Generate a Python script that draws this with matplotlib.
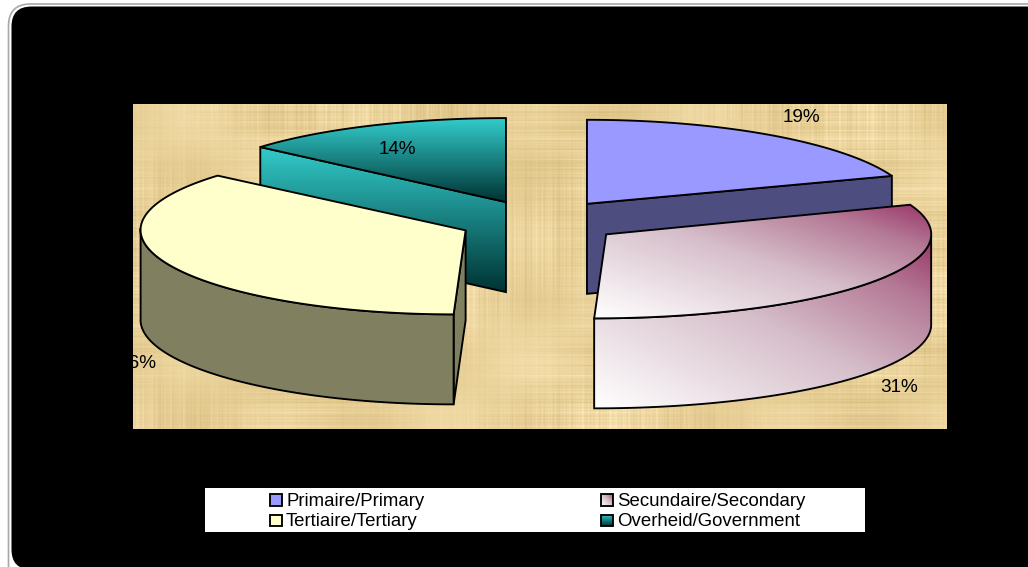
import numpy as np
import matplotlib
matplotlib.use("Agg")
import matplotlib.pyplot as plt
from matplotlib.patches import Polygon, Rectangle, FancyBboxPatch
from matplotlib.colors import LinearSegmentedColormap

plt.rcParams['font.family'] = ['Liberation Sans', 'DejaVu Sans']

categories = ['Primaire/Primary', 'Secundaire/Secondary', 'Tertiaire/Tertiary', 'Overheid/Government']
shares = [19, 31, 36, 14]
share_labels = ['19%', '31%', '36%', '14%']

# projection of the exploded pie (pixels)
CX, CY = 540.0, 222.0
EXPL_X, EXPL_Y = 80.0, 22.0
NUDGE_X = [2, 0, -2, 0]
NUDGE_Y = [0, 0, -1, 0]
RX = [332, 331, 319, 316]
RY = 84.0
LEAN = 6.0
TILT = [3.5, 1.5, -2.0, -2.5]
DEPTH = 90.0
LW = 1.35

fig = plt.figure(figsize=(10.28, 5.67), dpi=100, facecolor='white')
ax = fig.add_axes([0, 0, 1, 1])
ax.set_xlim(0, 1028)
ax.set_ylim(567, 0)
ax.axis('off')

# frame
ax.add_patch(FancyBboxPatch((8.5, 4), 1060, 600, boxstyle='round,pad=0,rounding_size=22',
                            fc='white', ec='#a8a8a8', lw=1.2, zorder=1))
ax.add_patch(FancyBboxPatch((11.5, 6.5), 1060, 563, boxstyle='round,pad=0,rounding_size=20',
                            fc='black', ec='none', zorder=1.1))

# papyrus texture: vertical and horizontal fibres built from layered sines
px, py = np.meshgrid(np.arange(133, 947), np.arange(104, 429))
fib_v = sum(np.sin(px * f + p) for f, p in [(0.93, 0.3), (1.37, 1.1), (0.41, 2.2), (2.03, 0.7), (0.173, 1.9)])
fib_h = sum(np.sin(py * f + p) for f, p in [(0.87, 1.5), (1.51, 0.2), (0.37, 0.9), (2.21, 2.6), (0.139, 0.4)])
mod_v = 0.6 + 0.4 * np.sin(py * 0.029 + 1.3 * np.sin(px * 0.013))
mod_h = 0.6 + 0.4 * np.sin(px * 0.023 + 1.1 * np.sin(py * 0.017))
slow = np.sin(px * 0.037 + 0.8) * np.sin(py * 0.051 + 2.0) + 0.5 * np.sin((px - py) * 0.011)
weave = 0.22 * fib_v * mod_v + 0.22 * fib_h * mod_h + 0.45 * slow
base = np.array([233, 209, 153]) / 255
shade = np.array([12, 14, 19]) / 255
tex = np.clip(base[None, None, :] + weave[..., None] * shade[None, None, :], 0, 1)
ax.imshow(tex, extent=(133, 947, 429, 104), aspect='auto', zorder=2, interpolation='nearest')


def gradient(poly_xy, colors, mode, z):
    xs, ys = poly_xy[:, 0], poly_xy[:, 1]
    x0, x1, y0, y1 = xs.min(), xs.max(), ys.min(), ys.max()
    gx, gy = np.meshgrid(np.linspace(0, 1, 256), np.linspace(0, 1, 256))
    t = gy if mode == 'v' else (gx + (1 - gy)) / 2
    cmap = LinearSegmentedColormap.from_list('g', colors)
    im = ax.imshow(t, cmap=cmap, vmin=0, vmax=1, extent=(x0, x1, y1, y0),
                   aspect='auto', zorder=z, interpolation='bilinear')
    patch = Polygon(poly_xy, closed=True, fc='none', ec='black', lw=LW, zorder=z + 0.01,
                    joinstyle='miter')
    ax.add_patch(patch)
    im.set_clip_path(patch)


def solid(poly_xy, color, z):
    ax.add_patch(Polygon(poly_xy, closed=True, fc=color, ec='black', lw=LW, zorder=z,
                         joinstyle='miter'))


edges = np.deg2rad(np.cumsum([0] + shares) * 3.6)
mids = (edges[:-1] + edges[1:]) / 2
APEX = [(CX + EXPL_X * np.sin(m) + nx, CY - EXPL_Y * np.cos(m) + ny)
        for m, nx, ny in zip(mids, NUDGE_X, NUDGE_Y)]


def point(i, th):
    return np.array([APEX[i][0] + RX[i] * np.sin(th) - LEAN * (1 - np.cos(th)),
                     APEX[i][1] - RY * np.cos(th) + TILT[i] * np.sin(th) ** 2])


def arc(i, a, b, n=120):
    return np.array([point(i, t) for t in np.linspace(a, b, n)])


def extrude(path):
    return np.vstack([path, path[::-1] + [0, DEPTH]])


TEAL = ['#33CCCC', '#003333']
PLUM = [(0, '#FFFFFF'), (0.5, '#D6BECA'), (0.8, '#B47A96'), (1, '#993366')]

# Overheid (back left)
i = 3
ap = np.array(APEX[i])
gradient(extrude(np.array([point(i, edges[3]), ap])), TEAL, 'v', 3)
gradient(np.vstack([[ap], arc(i, edges[3], edges[4])]), TEAL, 'v', 3.1)

# Primaire (back right)
i = 0
ap = np.array(APEX[i])
solid(extrude(np.array([ap, point(i, edges[1])])), '#4D4D80', 3)
solid(np.vstack([[ap], arc(i, edges[0], edges[1])]), '#9999FF', 3.1)

# Tertiaire (front left)
i = 2
ap = np.array(APEX[i])
solid(extrude(np.array([ap, point(i, edges[2])])), '#808060', 4)
solid(extrude(arc(i, edges[2], np.deg2rad(270))), '#808060', 4.1)
solid(np.vstack([[ap], arc(i, edges[2], edges[3])]), '#FFFFCC', 4.2)

# Secundaire (front right)
i = 1
ap = np.array(APEX[i])
gradient(extrude(arc(i, np.deg2rad(90), edges[2])), PLUM, 'd', 4.3)
gradient(np.vstack([[ap], arc(i, edges[1], edges[2])]), PLUM, 'd', 4.4)

# percent labels (black text, so it disappears over the black frame)
label_pos = [(801, 118), (899, 387), (137, 363), (397, 149)]
for s, (lx, ly) in zip(share_labels, label_pos):
    ax.text(lx, ly, s, fontsize=13.6, color='black', ha='center', va='center', zorder=6)

# legend
ax.add_patch(Rectangle((205, 488), 660, 44, fc='white', ec='none', zorder=5))
sw_x = [270, 601, 270, 601]
sw_y = [494, 494, 514.5, 514.5]
legend_grad = [(['#9999FF', '#9999FF'], 'v'), (PLUM, 'd'),
               (['#FFFFCC', '#FFFFCC'], 'v'), (TEAL, 'v')]
for name, sx, sy, (cols, m) in zip(categories, sw_x, sw_y, legend_grad):
    box = np.array([[sx, sy], [sx + 11.5, sy], [sx + 11.5, sy + 11.5], [sx, sy + 11.5]], float)
    gradient(box, cols, m, 5.1)
    ax.text(sx + 16, sy + 7.4, name, fontsize=13.4, color='black', ha='left', va='center', zorder=6)

ax.set_xlim(0, 1028)
ax.set_ylim(567, 0)
fig.savefig('out.png', dpi=100, facecolor='white')
